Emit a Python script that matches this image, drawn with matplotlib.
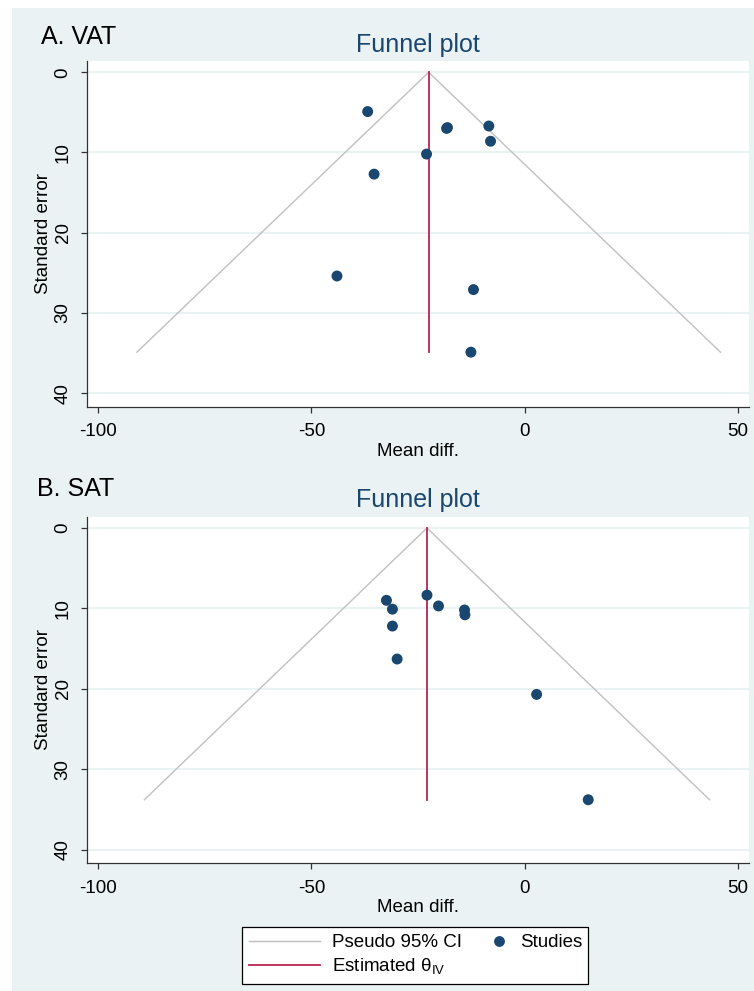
import numpy as np
import matplotlib
matplotlib.use('Agg')
import matplotlib.pyplot as plt
from matplotlib.patches import Rectangle
from matplotlib.lines import Line2D
from matplotlib.legend_handler import HandlerLine2D

plt.rcParams['font.family'] = ['Liberation Sans', 'DejaVu Sans']
plt.rcParams['mathtext.fontset'] = 'custom'
plt.rcParams['mathtext.rm'] = 'Liberation Sans'

# --- data ---
# A. VAT
vat_md = [-36.8, -18.1, -18.3, -8.4, -8.0, -23.0, -35.3, -44.0, -12.0, -12.6]
vat_se = [4.9, 6.9, 7.0, 6.7, 8.6, 10.2, 12.7, 25.4, 27.1, 34.9]
vat_theta = -22.5

# B. SAT
sat_md = [-32.4, -31.0, -31.0, -29.9, -22.9, -20.2, -14.1, -14.0, 2.8, 14.9]
sat_se = [9.0, 10.1, 12.2, 16.3, 8.35, 9.7, 10.2, 10.8, 20.7, 33.8]
sat_theta = -22.9

panels = ['A. VAT', 'B. SAT']
x_ticks = [-100, -50, 0, 50]
y_ticks = [0, 10, 20, 30, 40]

# --- style ---
BG = '#eaf2f3'
NAVY = '#1a476f'
RED = '#b8234f'
GREY = '#c0c0c0'
FS = 13.5

fig = plt.figure(figsize=(7.54, 9.91), dpi=100, facecolor='white')
# Stata-like background panel with a thin white margin top/left
fig.patches.append(Rectangle((12 / 754, -0.1), 2, 1.1 - 8 / 991,
                             transform=fig.transFigure, facecolor=BG,
                             edgecolor='none', zorder=-10))

# axes positions (figure fractions)
ax_rects = [[0.1154, 0.5896, 0.878, 0.3488],
            [0.1154, 0.1289, 0.878, 0.3497]]
panel_y = [1 - 37 / 991, 1 - 489 / 991]
title_y = [1 - 45 / 991, 1 - 500 / 991]
xlab_y = [1 - 452 / 991, 1 - 907 / 991]

data = [(vat_md, vat_se, vat_theta), (sat_md, sat_se, sat_theta)]

for i, (md, se, theta) in enumerate(data):
    ax = fig.add_axes(ax_rects[i])
    ax.set_facecolor('white')

    se_max = max(se)
    # pseudo 95% CI funnel
    ax.plot([theta - 1.96 * se_max, theta, theta + 1.96 * se_max],
            [se_max, 0, se_max], color=GREY, lw=1.0, zorder=2)
    # estimated theta
    ax.plot([theta, theta], [0, se_max], color=RED, lw=1.3, zorder=3)
    # studies
    ax.scatter(md, se, s=62, color=NAVY, edgecolors='none', zorder=4)

    ax.set_xlim(-102.6, 52.6)
    ax.set_ylim(41.7, -1.4)
    ax.set_xticks(x_ticks)
    ax.set_yticks(y_ticks)
    ax.set_xticklabels([str(t) for t in x_ticks], fontsize=FS)
    ax.set_yticklabels([str(t) for t in y_ticks], fontsize=FS,
                       rotation=90, va='center')
    ax.tick_params(axis='both', length=4, width=0.9, color='#333333',
                   direction='out')
    ax.tick_params(axis='x', pad=8)
    ax.tick_params(axis='y', pad=7)
    ax.grid(axis='y', color=BG, lw=1.5, zorder=0)
    ax.set_axisbelow(True)
    for s in ['top', 'right']:
        ax.spines[s].set_visible(False)
    for s in ['left', 'bottom']:
        ax.spines[s].set_color('#333333')
        ax.spines[s].set_linewidth(0.9)

    ax.set_ylabel('Standard error', fontsize=FS, va='center')
    ax.yaxis.set_label_coords(-0.065, 0.5)

    fig.text(418 / 754, xlab_y[i], 'Mean diff.', ha='center', va='center',
             fontsize=FS)
    fig.text(418 / 754, title_y[i], 'Funnel plot', ha='center', va='center',
             fontsize=18, color=NAVY)
    fig.text((41 - 4 * i) / 754, panel_y[i], panels[i], ha='left',
             va='center', fontsize=18, color='black')


# legend: marker of "Studies" sits near the right end of its handle box
class RightMarker(HandlerLine2D):
    def get_xdata(self, legend, xdescent, ydescent, width, height, fontsize):
        off = 0.45 * fontsize
        xd = np.array([-xdescent + width - 2 * off, -xdescent + width])
        return xd, np.array([-xdescent + width - off])


h_ci = Line2D([], [], color=GREY, lw=1.0)
h_th = Line2D([], [], color=RED, lw=1.3)
h_st = Line2D([], [], ls='none', marker='o', markersize=7.8,
              markerfacecolor=NAVY, markeredgecolor='none')

leg = fig.legend([h_ci, h_th, h_st],
                 ['Pseudo 95% CI', r'Estimated θ$_{\mathrm{IV}}$', 'Studies'],
                 ncol=2, loc='center', bbox_to_anchor=(0.551, 0.0358),
                 fontsize=FS, handlelength=3.8, handletextpad=0.65,
                 columnspacing=-1.4, labelspacing=0.3, borderpad=0.35,
                 fancybox=False, framealpha=1, edgecolor='black',
                 numpoints=1, handler_map={h_st: RightMarker()})
leg.get_frame().set_linewidth(0.9)

fig.savefig('out.png', dpi=100, facecolor='white')
